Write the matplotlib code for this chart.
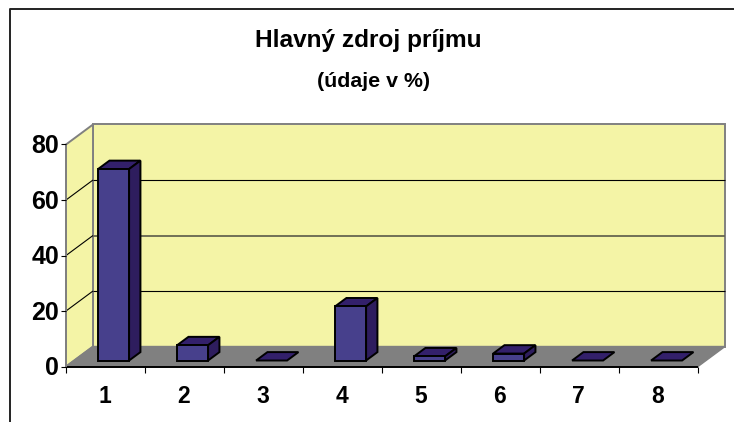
#!/usr/bin/env python3
"""Hlavny zdroj prijmu - fake 3D column chart."""

import matplotlib

matplotlib.use("Agg")
import matplotlib.pyplot as plt
from matplotlib.patches import Polygon, Rectangle

categories = ["1", "2", "3", "4", "5", "6", "7", "8"]
values = [69, 5.5, 0, 19.5, 1.5, 2.5, 0, 0]
y_ticks = [0, 20, 40, 60, 80]

W, H = 734, 422
# depth of the floor in data units (27 px right, 20 px up)
DX = 27 / 79
DY = 20 / 2.775

plt.rcParams["font.family"] = ["Liberation Sans", "DejaVu Sans"]
plt.rcParams["font.weight"] = "bold"

fig = plt.figure(figsize=(W / 100, H / 100), dpi=100, facecolor="white")
ax = fig.add_axes([66 / W, 1 - 366.5 / H, 632 / W, 222 / H])
ax.set_xlim(0, 8)
ax.set_ylim(0, 80)
ax.axis("off")


def poly(points, face, edge="black", lw=1.0, z=2):
    ax.add_patch(Polygon(points, closed=True, facecolor=face, edgecolor=edge, linewidth=lw, zorder=z, clip_on=False))


def line(xs, ys, color="black", lw=1.0, z=3):
    ax.plot(xs, ys, color=color, linewidth=lw, zorder=z, clip_on=False, solid_capstyle="butt")


# walls and floor
poly([(DX, DY), (8 + DX, DY), (8 + DX, 80 + DY), (DX, 80 + DY)], "#f4f4a6", "#808080", 1.4, 1)
poly([(0, 0), (DX, DY), (DX, 80 + DY), (0, 80)], "#f4f4a6", "#808080", 1.4, 1)
poly([(0, 0), (8, 0), (8 + DX, DY), (DX, DY)], "#808080", "#808080", 1.0, 1)

# gridlines, the 40 one comes out greyer in the original
for t in y_ticks[1:-1]:
    line([0, DX], [t, t + DY], "black", 0.8, 1.5)
    if t == 40:
        line([DX, 8 + DX], [t + DY, t + DY], "#666650", 1.3, 1.5)
    else:
        line([DX, 8 + DX], [t + DY, t + DY], "black", 0.8, 1.5)

# axes and ticks
line([0, 8], [0, 0], "black", 1.4)
line([0, 0], [0, 80], "#808080", 1.4)
for t in y_ticks:
    line([-0.06, 0], [t, t], "black", 0.8)
    ax.text(-0.09, t - 0.6, str(t), ha="right", va="center", fontsize=18)
for i in range(9):
    line([i, i], [0, -2.2], "black", 0.8)
for i, c in enumerate(categories):
    ax.text(i + 0.49, -10.9, c, ha="center", va="center", fontsize=16.5)

# bars
z_front, z_back = 0.3, 0.72
bar_w = 31 / 79
for i, v in enumerate(values):
    x0 = i + 0.5 - bar_w / 2 + z_front * DX
    x1 = x0 + bar_w
    y0 = z_front * DY
    y1 = y0 + v
    ddx = (z_back - z_front) * DX
    ddy = (z_back - z_front) * DY
    poly([(x0, y1), (x1, y1), (x1 + ddx, y1 + ddy), (x0 + ddx, y1 + ddy)], "#33206b", "black", 1.4, 4)
    if v > 0:
        poly([(x1, y0), (x1 + ddx, y0 + ddy), (x1 + ddx, y1 + ddy), (x1, y1)], "#2e1d5e", "black", 1.4, 4)
        ax.add_patch(Rectangle((x0, y0), bar_w, v, facecolor="#47408c", edgecolor="black", linewidth=1.4, zorder=5, clip_on=False))

# outer frame and titles
fig.add_artist(plt.Line2D([9.5 / W, 9.5 / W, 1], [0, 1 - 8.5 / H, 1 - 8.5 / H], color="#222222", linewidth=1.4))
fig.text(368 / W, 1 - 40 / H, "Hlavný zdroj príjmu", ha="center", va="center", fontsize=17.6)
fig.text(374 / W, 1 - 81.5 / H, "(údaje v %)", ha="center", va="center", fontsize=15.4)

fig.savefig("out.png", dpi=100, facecolor="white")
